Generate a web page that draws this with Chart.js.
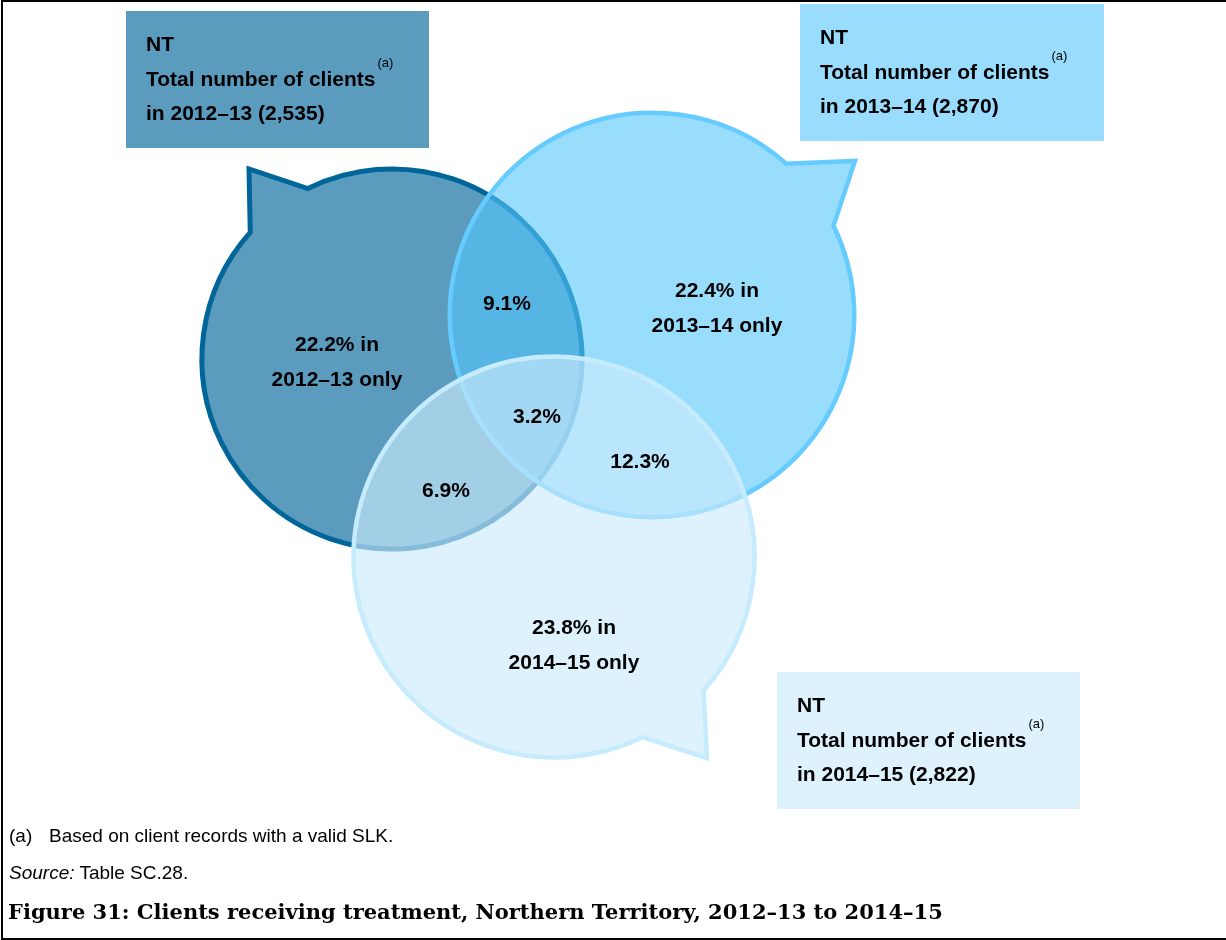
<!DOCTYPE html>
<html lang="en">
<head>
    <meta charset="UTF-8">
    <title>Clients receiving treatment, Northern Territory, 2012–13 to 2014–15</title>
    <script src="https://cdn.jsdelivr.net/npm/chart.js"></script>
    <style>
        body { margin: 0; background: #fff; }
        #frame {
            position: relative; height: 940px; box-sizing: border-box;
            border-top: 2px solid #000; border-left: 2px solid #000; border-bottom: 2px solid #000;
            margin-left: 1px; width: 1225px;
        }
        #vennChart { position: absolute; left: -3px; top: -2px; }
        .note { position: absolute; font-family: "Liberation Sans", Arial, sans-serif; font-size: 19px; line-height: 20px; color: #000; white-space: nowrap; }
        .title { position: absolute; font-family: "DejaVu Serif", "Liberation Serif", serif; font-weight: bold; font-size: 21px; line-height: 28px; white-space: nowrap; }
    </style>
</head>
<body>
<div id="frame">
    <canvas id="vennChart" width="1226" height="940"></canvas>
    <div class="note" style="left:6px; top:824px;">(a)</div>
    <div class="note" style="left:46px; top:824px;">Based on client records with a valid SLK.</div>
    <div class="note" style="left:6px; top:861px;"><i>Source:</i> Table SC.28.</div>
    <div class="title" style="left:5px; top:896px;">Figure 31: Clients receiving treatment, Northern Territory, 2012–13 to 2014–15</div>
</div>
<script>
    // Valeurs
    const years = ['2012–13', '2013–14', '2014–15'];
    const totalClients = [2535, 2870, 2822];
    const oneYearOnly = [22.2, 22.4, 23.8];          // % des clients vus une seule année
    const overlapNames = ['2012–13 + 2013–14', '2012–13 + 2014–15', '2013–14 + 2014–15', '3 années'];
    const overlapShares = [9.1, 6.9, 12.3, 3.2];

    // Mise en page (unités des axes = pixels)
    const bubbleCentres = [[392, 359], [652, 315], [554, 557]];
    const bubbleTails = [
        [[251, 233], [249, 169], [309, 191]],
        [[786, 164], [855, 161], [833, 226]],
        [[703, 690], [707, 758], [642, 737]]
    ];
    const radiusPerSqrtClient = 3.775;               // surface proportionnelle au total
    const onlyLabelSpots = [[337, 343], [717, 289], [574, 626]];
    const overlapLabelSpots = [[507, 302], [446, 489], [640, 460], [537, 415]];
    const totalBoxes = [[126, 11, 303, 137], [800, 4, 304, 137], [777, 672, 303, 137]];

    const bubbleFills = ['rgb(90,155,190)', 'rgba(85,198,252,0.6)', 'rgba(203,235,252,0.65)'];
    const bubbleStrokes = ['#006699', '#66ccff', '#c6ebfd'];
    const boxFills = ['#5a9bbe', '#99dcfd', '#ddf2fd'];

    const boldFont = 'bold 21px "Liberation Sans", Arial, sans-serif';

    function pct(v) { return v.toFixed(1) + '%'; }

    // Dessine une bulle (cercle + pointe) à partir des échelles
    const bubblePlugin = {
        id: 'speechBubbles',
        beforeDatasetsDraw(chart) {
            const ctx = chart.ctx;
            const xs = chart.scales.x, ys = chart.scales.y;
            const px = p => [xs.getPixelForValue(p[0]), ys.getPixelForValue(p[1])];

            ctx.save();
            // encadrés des totaux
            totalBoxes.forEach((b, i) => {
                const x0 = xs.getPixelForValue(b[0]), y0 = ys.getPixelForValue(b[1]);
                const x1 = xs.getPixelForValue(b[0] + b[2]), y1 = ys.getPixelForValue(b[1] + b[3]);
                ctx.fillStyle = boxFills[i];
                ctx.fillRect(x0, y0, x1 - x0, y1 - y0);
            });

            years.forEach((year, i) => {
                const el = chart.getDatasetMeta(i).data[0];
                const cx = el.x, cy = el.y;
                const r = xs.getPixelForValue(bubbleCentres[i][0] + radiusPerSqrtClient * Math.sqrt(totalClients[i])) - cx;
                const [a, tip, b] = bubbleTails[i].map(px);
                const angA = Math.atan2(a[1] - cy, a[0] - cx);
                const angB = Math.atan2(b[1] - cy, b[0] - cx);
                let sweep = (angA - angB) % (2 * Math.PI);
                if (sweep < 0) sweep += 2 * Math.PI;

                ctx.beginPath();
                ctx.arc(cx, cy, r, angB, angA, sweep < Math.PI);
                ctx.lineTo(tip[0], tip[1]);
                ctx.closePath();
                ctx.fillStyle = bubbleFills[i];
                ctx.fill();
                ctx.lineJoin = 'miter';
                ctx.lineWidth = i === 0 ? 5 : 4.5;
                ctx.strokeStyle = bubbleStrokes[i];
                ctx.stroke();
            });
            ctx.restore();
        },
        afterDatasetsDraw(chart) {
            const ctx = chart.ctx;
            const xs = chart.scales.x, ys = chart.scales.y;
            ctx.save();
            ctx.fillStyle = '#000';
            ctx.font = boldFont;
            ctx.textBaseline = 'alphabetic';

            // textes des encadrés
            totalBoxes.forEach((b, i) => {
                const x = xs.getPixelForValue(b[0] + 20);
                const y = ys.getPixelForValue(b[1]);
                ctx.textAlign = 'left';
                ctx.font = boldFont;
                ctx.fillText('NT', x, y + 40);
                const line2 = 'Total number of clients';
                ctx.fillText(line2, x, y + 74.5);
                ctx.fillText('in ' + years[i] + ' (' + totalClients[i].toLocaleString('en-AU') + ')', x, y + 109);
                const w = ctx.measureText(line2).width;
                ctx.font = '13px "Liberation Sans", Arial, sans-serif';
                ctx.fillText('(a)', x + w + 2, y + 56);
            });

            // pourcentages « une seule année »
            ctx.font = boldFont;
            ctx.textAlign = 'center';
            const onlyMeta = chart.getDatasetMeta(years.length);
            onlyMeta.data.forEach((el, i) => {
                ctx.fillText(pct(oneYearOnly[i]) + ' in', el.x, el.y + 7.5);
                ctx.fillText(years[i] + ' only', el.x, el.y + 42.5);
            });

            // pourcentages des recoupements
            const overlapMeta = chart.getDatasetMeta(years.length + 1);
            overlapMeta.data.forEach((el, i) => {
                ctx.fillText(pct(overlapShares[i]), el.x, el.y + 7.5);
            });
            ctx.restore();
        }
    };

    const datasets = years.map((year, i) => ({
        label: year,
        data: [{ x: bubbleCentres[i][0], y: bubbleCentres[i][1] }],
        pointRadius: 0
    }));
    datasets.push({
        label: 'one year only',
        data: onlyLabelSpots.map(p => ({ x: p[0], y: p[1] })),
        pointRadius: 0
    });
    datasets.push({
        label: 'overlaps',
        data: overlapLabelSpots.map((p, i) => ({ x: p[0], y: p[1], name: overlapNames[i] })),
        pointRadius: 0
    });

    new Chart(document.getElementById('vennChart'), {
        type: 'scatter',
        data: { datasets: datasets },
        options: {
            responsive: false,
            animation: false,
            devicePixelRatio: 1,
            layout: { padding: 0 },
            events: [],
            plugins: { legend: { display: false }, tooltip: { enabled: false } },
            scales: {
                x: { type: 'linear', min: 0, max: 1226, display: false },
                y: { type: 'linear', min: 0, max: 940, reverse: true, display: false }
            }
        },
        plugins: [bubblePlugin]
    });
</script>
</body>
</html>
